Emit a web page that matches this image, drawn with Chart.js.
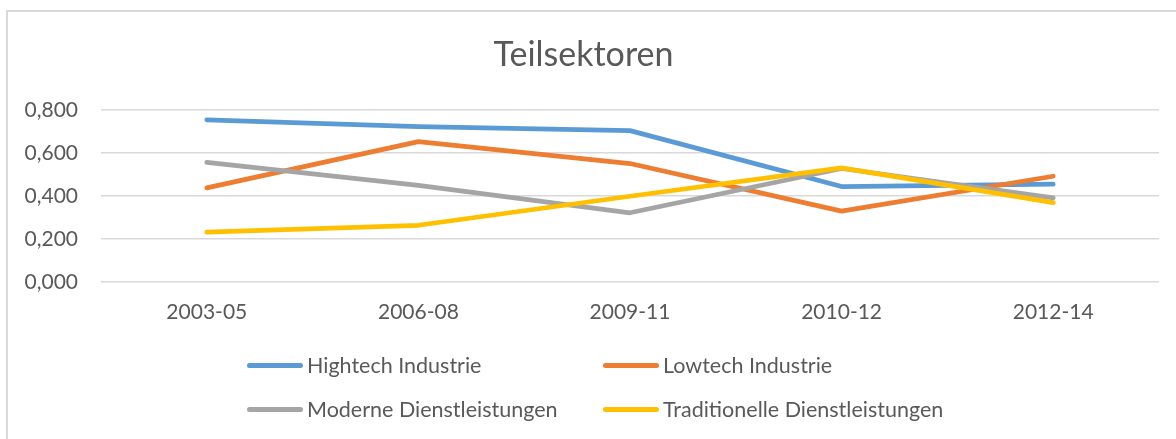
<!DOCTYPE html>
<html>
<head>
<meta charset="utf-8">
<script src="https://cdn.jsdelivr.net/npm/chart.js@4"></script>
<style>
  html, body { margin: 0; padding: 0; background: #fff; overflow: hidden; }
  body { width: 1176px; height: 439px; position: relative; }
  #frame {
    position: absolute; left: 6px; top: 10px; width: 1183px; height: 440px;
    border-left: 2px solid #d9d9d9; border-top: 2px solid #d9d9d9;
  }
  #wrap { position: absolute; left: 0; top: 0; width: 1181px; height: 427px; }
  #legend {
    position: absolute; left: 239px; top: 338px;
    display: grid; grid-template-columns: 356px 356px; row-gap: 14px;
    font-family: Lato, sans-serif; font-size: 21.5px; color: #595959;
  }
  .item { display: flex; align-items: center; height: 30px; white-space: nowrap; }
  .swatch { width: 56px; height: 5px; border-radius: 3px; margin-right: 4px; }
</style>
</head>
<body>
<div id="frame">
  <div id="wrap"><canvas id="teilsektorenChart"></canvas></div>
  <div id="legend"></div>
</div>
<script>
// Daten aus dem Diagramm
var categories = ['2003-05', '2006-08', '2009-11', '2010-12', '2012-14'];
var seriesNames = ['Hightech Industrie', 'Lowtech Industrie', 'Moderne Dienstleistungen', 'Traditionelle Dienstleistungen'];
var hightech = [0.753, 0.722, 0.703, 0.443, 0.454];
var lowtech = [0.437, 0.652, 0.550, 0.329, 0.491];
var moderne = [0.555, 0.449, 0.321, 0.527, 0.390];
var traditionelle = [0.231, 0.263, 0.398, 0.530, 0.368];
var yTickLabels = ['0,000', '0,200', '0,400', '0,600', '0,800'];

var colors = ['#5b9bd5', '#ed7d31', '#a5a5a5', '#ffc000'];
var values = [hightech, lowtech, moderne, traditionelle];

var datasets = values.map(function (v, i) {
    return {
        label: seriesNames[i],
        data: v,
        borderColor: colors[i],
        backgroundColor: colors[i],
        borderWidth: 4.75,
        borderCapStyle: 'round',
        borderJoinStyle: 'round',
        pointRadius: 0,
        pointHoverRadius: 0,
        fill: false,
        tension: 0,
        order: values.length - i
    };
});

var ctx = document.getElementById('teilsektorenChart').getContext('2d');
var chart = new Chart(ctx, {
    type: 'line',
    data: { labels: categories, datasets: datasets },
    options: {
        responsive: true,
        maintainAspectRatio: false,
        animation: false,
        layout: { padding: { left: 0, right: 30, top: 0, bottom: 104 } },
        plugins: {
            legend: { display: false },
            tooltip: { enabled: false },
            title: {
                display: true,
                text: 'Teilsektoren',
                color: '#595959',
                font: { family: 'Lato', size: 34, weight: 'normal' },
                padding: { top: 23, bottom: 34 }
            }
        },
        scales: {
            x: {
                offset: true,
                grid: { display: false },
                border: { display: false },
                ticks: {
                    color: '#595959',
                    font: { family: 'Lato', size: 21 },
                    padding: 10,
                    maxRotation: 0
                }
            },
            y: {
                min: 0,
                max: 0.8,
                afterFit: function (scale) { scale.width = 93; },
                grid: { color: '#d9d9d9', lineWidth: 1.5, drawTicks: false },
                border: { display: false },
                ticks: {
                    stepSize: 0.2,
                    color: '#595959',
                    font: { family: 'Lato', size: 21 },
                    padding: 23,
                    callback: function (v, i) { return yTickLabels[i]; }
                }
            }
        }
    }
});

// Legende in zwei Spalten wie im Original
var legend = document.getElementById('legend');
chart.data.datasets.forEach(function (ds) {
    var item = document.createElement('div');
    item.className = 'item';
    var sw = document.createElement('span');
    sw.className = 'swatch';
    sw.style.background = ds.borderColor;
    var txt = document.createElement('span');
    txt.textContent = ds.label;
    item.appendChild(sw);
    item.appendChild(txt);
    legend.appendChild(item);
});
</script>
</body>
</html>
